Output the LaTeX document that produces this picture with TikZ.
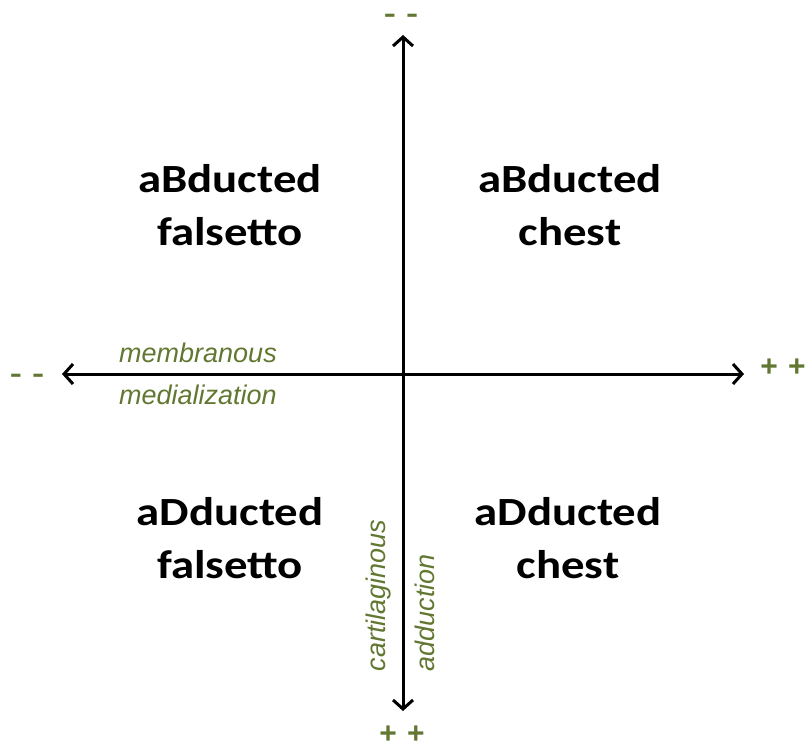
\documentclass[tikz,border=0pt]{standalone}
\usepackage{fontspec}
\setmainfont{Carlito}
\newfontfamily\arialfont{Liberation Sans}
\usetikzlibrary{arrows.meta}
\definecolor{axisgreen}{RGB}{98,120,50}

\begin{document}
\begin{tikzpicture}[x=1pt,y=-1pt,
  quad/.style={align=center,font=\fontsize{40}{53}\selectfont\bfseries,xscale=1.17,text=black},
  lab/.style={font=\arialfont\itshape\fontsize{27}{27}\selectfont,text=axisgreen},
  plus/.style={inner sep=0pt,font=\arialfont\bfseries\fontsize{30}{30}\selectfont,text=axisgreen},
  minus/.style={inner sep=0pt,text height=12pt,text depth=0pt,xscale=1.4,font=\arialfont\bfseries\fontsize{26}{26}\selectfont,text=axisgreen},
  axis/.style={line width=3pt,{Straight Barb[length=9pt,width=20pt]}-{Straight Barb[length=9pt,width=20pt]}}]
\def\cx{403}
\def\cy{374}
\useasboundingbox (0,0) rectangle (806,749);
% axis ends
\coordinate (N) at (\cx,35);
\coordinate (S) at (\cx,711);
\coordinate (W) at (62,\cy);
\coordinate (E) at (744,\cy);
\draw[axis] (W) -- (E);
\draw[axis] (N) -- (S);
% signs
\node[minus] (top) at (401,17) {- -};
\node[plus] (bottom) at (402,735) {+\hspace{2pt} +};
\node[minus] (left) at (27,376) {- -};
\node[plus] (right) at (783,368) {+\hspace{2pt} +};
% axis labels
\node[lab] (memb) at (198,353) {membranous};
\node[lab] (medi) at (198,395) {medialization};
\node[lab,rotate=90,anchor=west] (cart) at (379,675) {cartilaginous};
\node[lab,rotate=90,anchor=west] (addu) at (425,675) {adduction};
% quadrants
\node[quad] (abf) at (230,205) {aBducted\\falsetto};
\node[quad] (abc) at (570,205) {aBducted\\chest};
\node[quad] (adf) at (230,538) {aDducted\\falsetto};
\node[quad] (adc) at (568,538) {aDducted\\chest};
\end{tikzpicture}
\end{document}
